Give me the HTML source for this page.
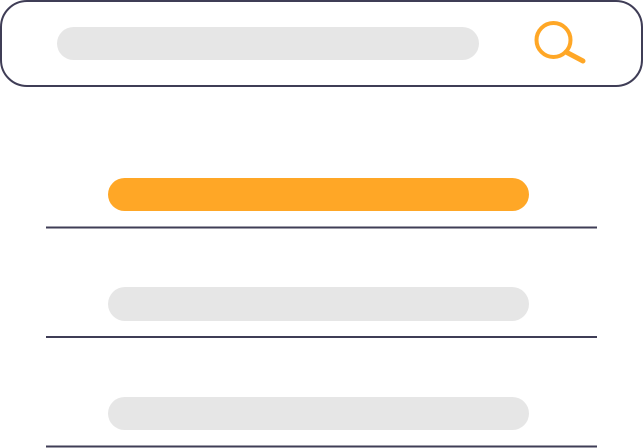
<!DOCTYPE html>
<html><head><style>
html,body{margin:0;padding:0;background:#fff;width:643px;height:448px;overflow:hidden}
</style></head><body>
<svg width="643" height="448" viewBox="0 0 643 448" xmlns="http://www.w3.org/2000/svg">
<rect x="1" y="1" width="641" height="85" rx="26" fill="#fff" stroke="#3f3d56" stroke-width="2"/>
<rect x="57" y="27" width="422" height="33" rx="16.5" fill="#e6e6e6"/>
<circle cx="553.5" cy="40" r="17" fill="none" stroke="#ffa726" stroke-width="4"/>
<line x1="566" y1="52" x2="583" y2="61" stroke="#ffa726" stroke-width="5" stroke-linecap="round"/>
<rect x="108" y="178" width="421" height="33" rx="16.5" fill="#ffa726"/>
<line x1="46" y1="227.5" x2="597" y2="227.5" stroke="#3f3d56" stroke-width="2"/>
<rect x="108" y="287" width="421" height="34" rx="17" fill="#e6e6e6"/>
<line x1="46" y1="337" x2="597" y2="337" stroke="#3f3d56" stroke-width="2"/>
<rect x="108" y="397" width="421" height="33" rx="16.5" fill="#e6e6e6"/>
<line x1="46" y1="446.5" x2="597" y2="446.5" stroke="#3f3d56" stroke-width="2"/>
</svg>
</body></html>
